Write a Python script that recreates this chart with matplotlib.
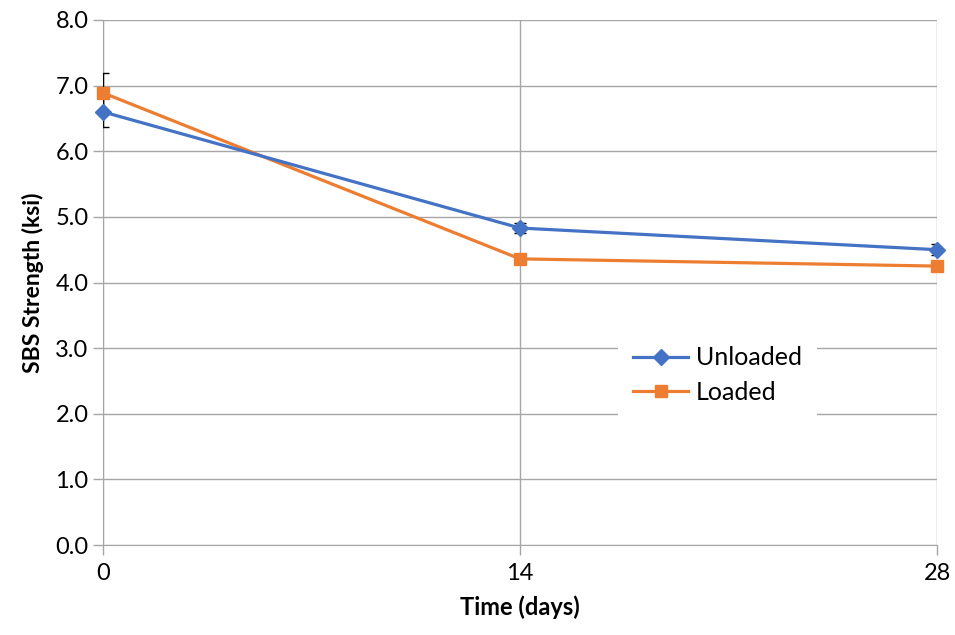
import matplotlib
matplotlib.use("Agg")
import matplotlib.pyplot as plt

plt.rcParams['font.family'] = ['Lato', 'DejaVu Sans']

days = [0, 14, 28]
unloaded = [6.60, 4.83, 4.50]
unloaded_err = [0.23, 0.08, 0.08]
loaded = [6.89, 4.36, 4.25]
loaded_err = [0.30, 0.0, 0.0]
yticks = [0.0, 1.0, 2.0, 3.0, 4.0, 5.0, 6.0, 7.0, 8.0]

fig = plt.figure(figsize=(9.55, 6.35), dpi=100)
ax = fig.add_axes([103/955, 90/635, 834/955, 525/635])

blue = '#4472C4'
orange = '#ED7D31'
grid = '#A6A6A6'

ax.plot(days, unloaded, color=blue, lw=2.3, marker='D', ms=8, label='Unloaded',
        zorder=4, clip_on=False)
ax.plot(days, loaded, color=orange, lw=2.3, marker='s', ms=9, label='Loaded',
        zorder=3, clip_on=False)
for vals, errs in [(unloaded, unloaded_err), (loaded, loaded_err)]:
    idx = [i for i, e in enumerate(errs) if e > 0]
    ax.errorbar([days[i] for i in idx], [vals[i] for i in idx],
                yerr=[errs[i] for i in idx], fmt='none', ecolor='black',
                elinewidth=1, capsize=4, capthick=1, zorder=2.7)

ax.set_xlim(0, 28)
ax.set_ylim(0, 8)
ax.set_xticks(days)
ax.set_yticks(yticks)
ax.set_yticklabels([f"{v:.1f}" for v in yticks])
ax.grid(True, color=grid, lw=1, zorder=0)
ax.set_axisbelow(True)
for s in ['top', 'right']:
    ax.spines[s].set_visible(False)
for s in ['left', 'bottom']:
    ax.spines[s].set_color(grid)
ax.tick_params(axis='both', colors=grid, length=7, width=1, labelsize=17, labelcolor='black')
ax.tick_params(axis='x', pad=6)

ax.set_xlabel('Time (days)', fontsize=17, fontweight='bold', labelpad=8)
ax.set_ylabel('SBS Strength (ksi)', fontsize=16.5, fontweight='bold', labelpad=8)

leg = ax.legend(loc='center', bbox_to_anchor=(0.737, 0.324), frameon=True,
                fontsize=18, handlelength=2.2, handletextpad=0.3,
                borderpad=0.6, labelspacing=0.45)
leg.get_frame().set_facecolor('white')
leg.get_frame().set_edgecolor('none')
leg.get_frame().set_alpha(1)

fig.savefig('out.png', dpi=100)
